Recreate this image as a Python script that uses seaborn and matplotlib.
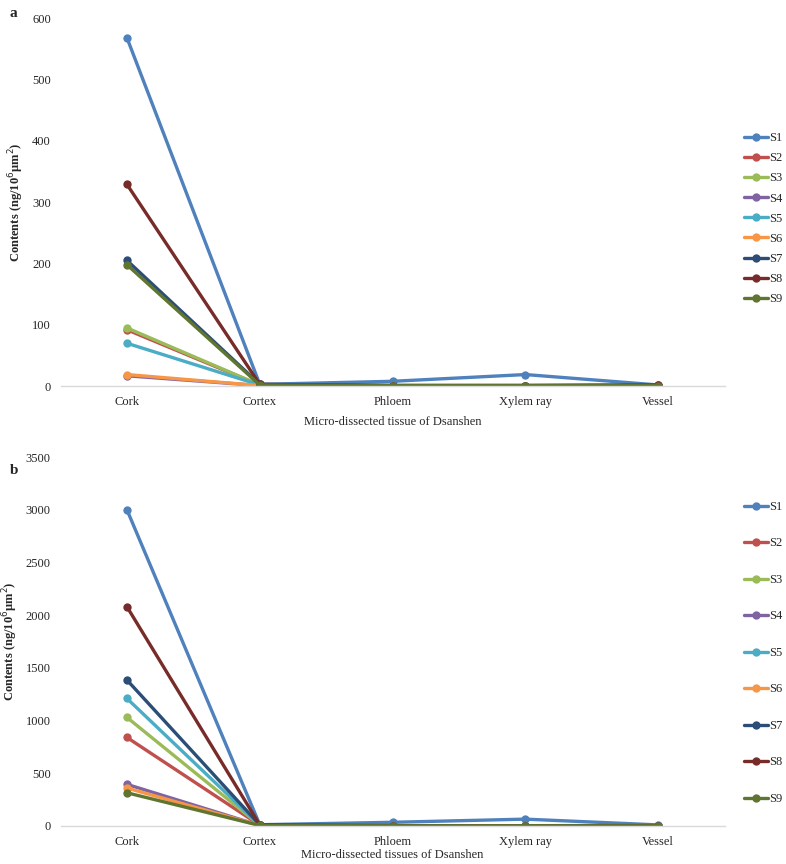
import pandas as pd
import seaborn as sns
import matplotlib.pyplot as plt

sns.set_theme(style="white")
plt.rcParams['font.family'] = ['Liberation Serif', 'DejaVu Serif']

tissues = ['Cork', 'Cortex', 'Phloem', 'Xylem ray', 'Vessel']
samples = ['S1', 'S2', 'S3', 'S4', 'S5', 'S6', 'S7', 'S8', 'S9']

# panel a values (ng/10^6 um^2)
a_S1 = [568, 3, 8, 19, 2]
a_S2 = [92, 2, 1, 1, 2]
a_S3 = [95, 2, 1, 1, 1]
a_S4 = [17, 1, 1, 1, 1]
a_S5 = [70, 2, 1, 1, 1]
a_S6 = [19, 1, 1, 1, 1]
a_S7 = [205, 3, 1, 1, 1]
a_S8 = [329, 3, 1, 1, 2]
a_S9 = [198, 2, 1, 1, 1]

# panel b values
b_S1 = [3000, 12, 35, 65, 10]
b_S2 = [840, 8, 3, 3, 3]
b_S3 = [1030, 8, 3, 3, 3]
b_S4 = [395, 5, 2, 2, 2]
b_S5 = [1210, 8, 3, 3, 3]
b_S6 = [360, 5, 2, 2, 2]
b_S7 = [1385, 10, 3, 3, 3]
b_S8 = [2080, 10, 3, 3, 4]
b_S9 = [315, 5, 2, 2, 2]

colors = ['#4F81BD', '#C0504D', '#9BBB59', '#8064A2', '#4BACC6',
          '#F79646', '#2C4D75', '#772C2A', '#5F7530']

def long_df(rows):
    recs = []
    for s, vals in zip(samples, rows):
        for t, v in zip(tissues, vals):
            recs.append({'tissue': t, 'sample': s, 'value': v})
    return pd.DataFrame(recs)

data_a = long_df([a_S1, a_S2, a_S3, a_S4, a_S5, a_S6, a_S7, a_S8, a_S9])
data_b = long_df([b_S1, b_S2, b_S3, b_S4, b_S5, b_S6, b_S7, b_S8, b_S9])

fig = plt.figure(figsize=(7.86, 8.64), dpi=100)
ax_a = fig.add_axes([0.077, 0.553, 0.845, 0.426])
ax_b = fig.add_axes([0.077, 0.044, 0.845, 0.427])

panels = [
    (ax_a, data_a, 600, 100, 'Micro-dissected tissue of Dsanshen', 0.455, 0.65, 6),
    (ax_b, data_b, 3500, 500, 'Micro-dissected tissues of Dsanshen', 0.469, 1.96, 1),
]

for ax, d, ymax, step, xlab, ly, lsp, xpad in panels:
    sns.lineplot(data=d, x='tissue', y='value', hue='sample', palette=colors,
                 marker='o', markersize=6, markeredgewidth=0, linewidth=2.4,
                 sort=False, ax=ax)
    ax.set_xlim(-0.5, 4.5)
    ax.set_ylim(0, ymax)
    ax.set_yticks(range(0, ymax + 1, step))
    ax.tick_params(length=0, labelsize=9, pad=7)
    for sp in ['top', 'right', 'left']:
        ax.spines[sp].set_visible(False)
    ax.spines['bottom'].set_color('#d9d9d9')
    ax.spines['bottom'].set_linewidth(1)
    ax.set_xlabel(xlab, fontsize=9, labelpad=xpad)
    ax.set_ylabel('Contents (ng/10$^{6}$μm$^{2}$)', fontsize=9, fontweight='bold', labelpad=4)
    ax.legend(loc='center left', bbox_to_anchor=(1.022, ly),
              frameon=False, fontsize=9, handlelength=1.9, handletextpad=0.1,
              labelspacing=lsp, borderaxespad=0)
    ax.grid(False)

fig.text(0.012, 0.992, 'a', fontsize=11, fontweight='bold', va='top')
fig.text(0.012, 0.463, 'b', fontsize=11, fontweight='bold', va='top')

fig.savefig('out.png', dpi=100)
